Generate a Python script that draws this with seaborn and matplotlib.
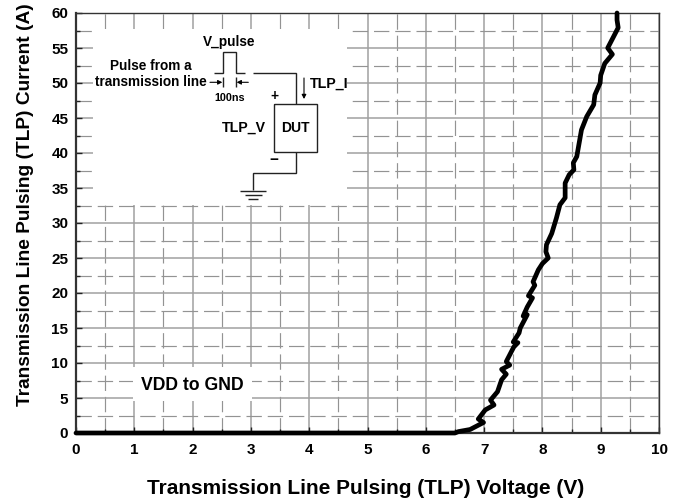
import numpy as np
import pandas as pd
import matplotlib.pyplot as plt
import seaborn as sns
from matplotlib.patches import Rectangle

# TLP curve
voltage = [0, 1, 2, 3, 4, 5, 6, 6.5, 6.56, 6.76, 6.99, 6.90, 7.02, 7.17, 7.11, 7.23, 7.30, 7.38,
           7.30, 7.44, 7.38, 7.51, 7.58, 7.50, 7.60, 7.62, 7.74, 7.67, 7.74, 7.83, 7.76, 7.87,
           7.84, 7.93, 8.00, 8.10, 8.06, 8.07, 8.16, 8.24, 8.30, 8.39, 8.39, 8.46, 8.54, 8.53,
           8.59, 8.67, 8.76, 8.88, 8.90, 8.99, 9.00, 9.07, 9.20, 9.12, 9.30, 9.28, 9.28]
current = [0, 0, 0, 0, 0, 0, 0, 0, 0.2, 0.5, 1.5, 2.0, 3.3, 4.0, 4.7, 5.9, 7.6, 8.4,
           9.1, 9.7, 10.2, 12.3, 12.9, 13.0, 14.3, 15.0, 16.9, 16.7, 18.0, 19.3, 19.6, 21.1,
           21.6, 23.3, 24.2, 25.0, 25.9, 26.9, 28.5, 30.7, 32.6, 33.6, 35.7, 36.9, 37.6, 38.6,
           39.5, 43.3, 45.2, 46.9, 48.3, 50.0, 51.1, 52.8, 54.1, 55.0, 57.9, 59.0, 60.0]

x_ticks = list(range(0, 11))
y_ticks = list(range(0, 61, 5))

plt.rcParams["font.family"] = "Liberation Sans"
plt.rcParams["font.weight"] = "bold"

W, H = 683, 499
L, R, T, B = 76, 659, 13, 433

fig = plt.figure(figsize=(W / 100, H / 100), dpi=100)
ax = fig.add_axes([L / W, 1 - B / H, (R - L) / W, (B - T) / H])

# schematic is laid out in picture pixels
def px(x):
    return (x - L) / (R - L) * 10

def py(y):
    return (B - y) / (B - T) * 60

def wire(xs, ys, lw=1.0):
    ax.plot([px(v) for v in xs], [py(v) for v in ys], color="#222222", lw=lw, zorder=4,
            solid_capstyle="butt", solid_joinstyle="miter")

def label(x, y, s, size=9.8, ha="center"):
    ax.text(px(x), py(y), s, fontsize=size, ha=ha, va="center", color="black", zorder=5)

def arrow(x0, y0, x1, y1):
    ax.annotate("", xy=(px(x1), py(y1)), xytext=(px(x0), py(y0)), zorder=5,
                arrowprops=dict(arrowstyle="-|>,head_width=0.13,head_length=0.25", color="black",
                                lw=0.8, shrinkA=0, shrinkB=0))

ax.set_xlim(0, 10)
ax.set_ylim(0, 60)
ax.set_xticks(x_ticks)
ax.set_yticks(y_ticks)
ax.set_xticks(np.arange(0, 10.01, 0.5), minor=True)
ax.set_yticks(np.arange(0, 60.01, 2.5), minor=True)
ax.grid(which="major", color="#a0a0a0", lw=1.1)
ax.grid(which="minor", color="#939393", lw=0.85, linestyle=(0, (13, 5)))
ax.set_axisbelow(True)
ax.tick_params(which="major", direction="in", length=4, width=1.0, color="#222222", labelsize=11)
ax.tick_params(axis="y", which="major", pad=5.5)
ax.tick_params(axis="x", which="major", pad=7)
ax.tick_params(which="minor", direction="in", length=3, width=1.0, color="#222222")
for side, spine in ax.spines.items():
    spine.set_color("#333333")
    spine.set_linewidth(1.0 if side in ("top", "right") else 1.6)

# white patches that hide the grid behind the inset and the note
ax.add_patch(Rectangle((px(93), py(205)), px(347) - px(93), py(29) - py(205), fc="white", ec="none", zorder=2))
ax.add_patch(Rectangle((px(133), py(401)), px(252) - px(133), py(367) - py(401), fc="white", ec="none", zorder=2))

df = pd.DataFrame({"voltage": voltage, "current": current})
sns.lineplot(data=df, x="voltage", y="current", estimator=None, sort=False, color="black",
             lw=3.4, ax=ax, zorder=6, clip_on=False, solid_capstyle="round")

ax.set_xlabel("Transmission Line Pulsing (TLP) Voltage (V)", fontsize=15, fontweight="bold")
ax.set_ylabel("Transmission Line Pulsing (TLP) Current (A)", fontsize=13.8, fontweight="bold")
ax.xaxis.set_label_coords((365.5 - L) / (R - L), (B - 488) / (B - T), transform=ax.transAxes)
ax.yaxis.set_label_coords((26 - L) / (R - L), (B - 205) / (B - T), transform=ax.transAxes)
ax.xaxis.label.set_va("center")
ax.yaxis.label.set_va("center")

# inset circuit
wire([214, 223.3, 223.3, 235.7, 235.7, 245], [73.3, 73.3, 52.3, 52.3, 73.3, 73.3])
wire([253.3, 295.7, 295.7], [73.3, 73.3, 104])
wire([274.3, 316.7, 316.7, 274.3, 274.3], [104, 104, 151.7, 151.7, 104])
wire([295.7, 295.7, 252.7, 252.7], [151.7, 173.3, 173.3, 190])
wire([240, 265.7], [190.7, 190.7])
wire([245, 261.7], [195, 195])
wire([248.3, 257.7], [199, 199])
wire([223.3, 223.3], [77, 87])
wire([235.7, 235.7], [77, 87])
arrow(210, 82.3, 222.3, 82.3)
arrow(248.3, 82.3, 236.7, 82.3)
arrow(304, 78, 304, 99)

label(229.3, 41.7, "V_pulse")
label(150.7, 65.7, "Pulse from a")
label(150.7, 82, "transmission line")
label(229.3, 97.7, "100ns", size=7.8)
label(274, 96, "+")
label(244.3, 127.7, "TLP_V", size=10.2)
label(295, 127.7, "DUT", size=10)
label(274, 160, "\u2212", size=11)
label(310, 84, "TLP_I", size=10.2, ha="left")
label(192, 385, "VDD to GND", size=12.7)

fig.savefig("out.png", dpi=100)
